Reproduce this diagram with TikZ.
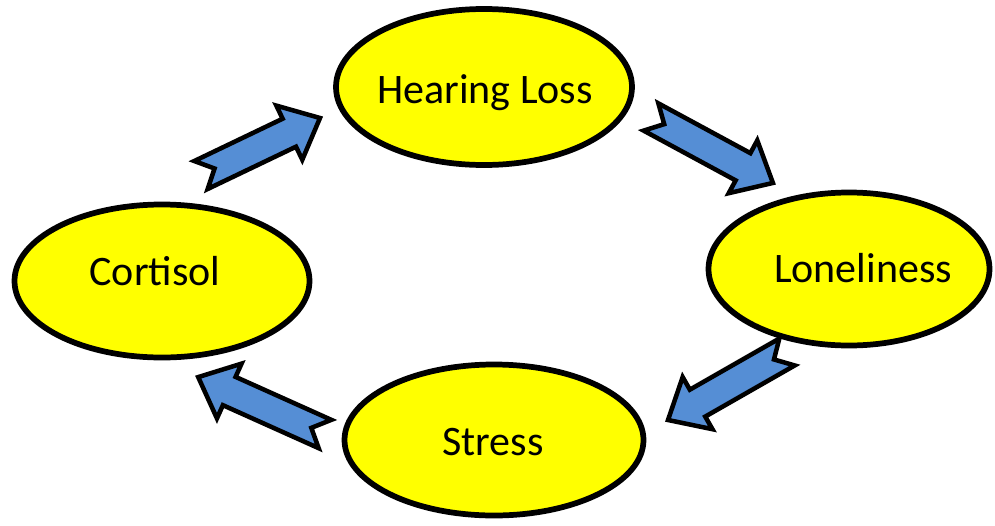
\documentclass[tikz,border=0pt]{standalone}
\usepackage{fontspec}
\setmainfont{Carlito}
\usetikzlibrary{shapes.geometric,calc}
\definecolor{bubblefill}{HTML}{FFFF00}
\definecolor{arrowfill}{HTML}{558ED5}
\newdimen\arrowdx
\newdimen\arrowdy
\makeatletter
\newcommand\bluearrow[2]{%
  \pgfpointdiff{\pgfpointanchor{#1}{center}}{\pgfpointanchor{#2}{center}}%
  \arrowdx=\pgf@x \arrowdy=\pgf@y
  \pgfmathveclen{\arrowdx}{\arrowdy}\let\arrowlenpt\pgfmathresult
  \pgfmathsetmacro\arrowL{\arrowlenpt/0.75}%
  \pgfmathanglebetweenpoints{\pgfpointanchor{#1}{center}}{\pgfpointanchor{#2}{center}}%
  \let\arrowang\pgfmathresult
  \begin{scope}[shift={(#1)}, rotate=\arrowang, x=0.75pt, y=0.75pt]
    \draw[blockarrow] (0,15.5) -- ({\arrowL-34},15.5) -- ({\arrowL-34},30) -- (\arrowL,0)
      -- ({\arrowL-34},-30) -- ({\arrowL-34},-15.5) -- (0,-15.5) -- (15,0) -- cycle;
  \end{scope}}
\makeatother
\tikzset{
  bubble/.style={ellipse, draw=black, fill=bubblefill, line width=4.3pt, inner sep=0pt},
  lbl/.style={anchor=base, inner sep=0pt, font=\fontsize{31.5}{36}\selectfont},
  blockarrow/.style={draw=black, fill=arrowfill, line width=3.4pt, line join=miter},
}
\begin{document}
\begin{tikzpicture}[x=0.75pt, y=-0.75pt]
\useasboundingbox[fill=white] (0,0) rectangle (995,525);
% ellipses
\node[bubble, minimum width={296*0.75pt}, minimum height={156*0.75pt}] (hearing) at (484,87) {};
\node[bubble, minimum width={281*0.75pt}, minimum height={153*0.75pt}] (lonely) at (849,269) {};
\node[bubble, minimum width={295*0.75pt}, minimum height={153*0.75pt}] (cortisol) at (162,281) {};
\node[bubble, minimum width={299*0.75pt}, minimum height={151*0.75pt}] (stress) at (494,440) {};
% labels
\node[lbl] (hearingtxt) at (485,103) {Hearing Loss};
\node[lbl] (lonelytxt) at (863,282) {Loneliness};
\node[lbl] (cortisoltxt) at (155,285) {Cortisol};
\node[lbl] (stresstxt) at (493,455) {Stress};
% arrow ends
\coordinate (a1s) at (201,175); \coordinate (a1e) at (320,118);
\coordinate (a2s) at (651,117); \coordinate (a2e) at (773,183);
\coordinate (a3s) at (787,352); \coordinate (a3e) at (668,420);
\coordinate (a4s) at (325,434); \coordinate (a4e) at (198,377);
\bluearrow{a1s}{a1e}
\bluearrow{a2s}{a2e}
\bluearrow{a3s}{a3e}
\bluearrow{a4s}{a4e}
\end{tikzpicture}
\end{document}
